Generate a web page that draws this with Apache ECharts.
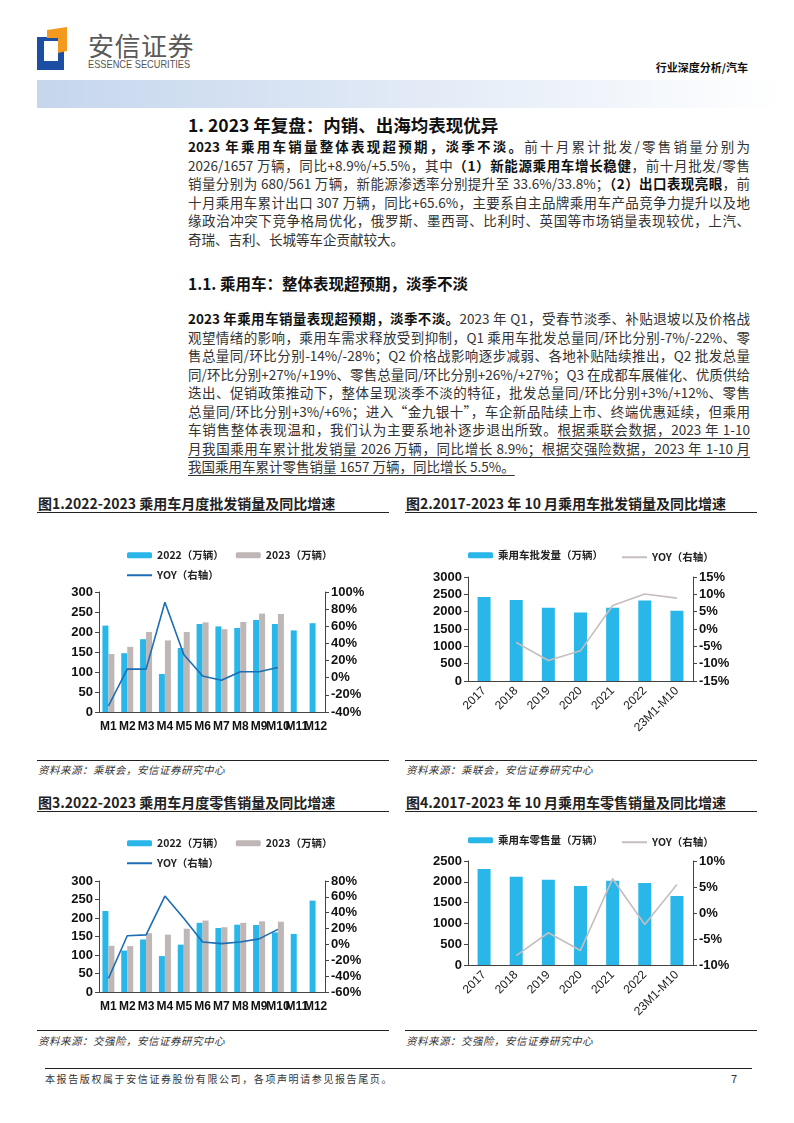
<!DOCTYPE html>
<html>
<head>
<meta charset="utf-8">
<script src="https://cdn.jsdelivr.net/npm/echarts@6/dist/echarts.min.js"></script>
<style>
  body { margin: 0; background: #fff; font-family: "Noto Sans CJK SC", sans-serif; }
  #page { position: relative; width: 794px; height: 1123px; overflow: hidden; }
  .abs { position: absolute; }
  .ln { position: absolute; left: 188px; width: 562px; font-size: 13.5px; line-height: 18px; color: #333;
        white-space: nowrap; text-align: justify; text-align-last: justify; }
  .ln.last { text-align-last: left; }
  .ln b { color: #111; }
  .u { text-decoration: underline; text-underline-offset: 3px; }
  .ctitle { position: absolute; font-size: 14px; font-weight: bold; color: #222; white-space: nowrap; }
  .rule { position: absolute; height: 0; border-top: 1.5px solid #222; }
  .src { position: absolute; font-size: 10.5px; font-style: italic; color: #333; letter-spacing: 0.5px; }
  .chart { position: absolute; }
</style>
</head>
<body>
<div id="page">
  <!-- 页眉 -->
  <svg class="abs" style="left:36px;top:26px" width="34" height="46">
    <rect x="1" y="11" width="27" height="33" fill="#1c4fa3"/>
    <rect x="8" y="15" width="14" height="20" fill="#fff"/>
    <polygon points="11,4 31,1 31,25 22,27 22,12 11,12" fill="#f39a1e"/>
  </svg>
  <div class="abs" style="left:88px;top:26px;font-size:26px;color:#5a5a5a;letter-spacing:0.5px">安信证券</div>
  <div class="abs" style="left:88px;top:58px;font-size:11px;color:#555;font-family:'Liberation Sans Narrow','Liberation Sans';transform:scaleX(0.84);transform-origin:left">ESSENCE SECURITIES</div>
  <div class="abs" style="right:46px;top:59px;font-size:11px;font-weight:bold;color:#111">行业深度分析/汽车</div>
  <div class="abs" style="left:37px;top:80px;width:745px;height:28px;background:linear-gradient(to right,#c5d6ed,#e4ecf7 55%,#ffffff)"></div>

  <!-- 正文 -->
  <div class="abs" style="left:188px;top:112px;font-size:17.5px;font-weight:bold;color:#111">1. 2023 年复盘：内销、出海均表现优异</div>
  <div class="ln" style="top:137px"><b>2023 年乘用车销量整体表现超预期，淡季不淡。</b>前十月累计批发/零售销量分别为</div>
  <div class="ln" style="top:155.5px">2026/1657 万辆，同比+8.9%/+5.5%，其中<b>（1）新能源乘用车增长稳健</b>，前十月批发/零售</div>
  <div class="ln" style="top:174px">销量分别为 680/561 万辆，新能源渗透率分别提升至 33.6%/33.8%；<b>（2）出口表现亮眼</b>，前</div>
  <div class="ln" style="top:192.5px">十月乘用车累计出口 307 万辆，同比+65.6%，主要系自主品牌乘用车产品竞争力提升以及地</div>
  <div class="ln" style="top:211px">缘政治冲突下竞争格局优化，俄罗斯、墨西哥、比利时、英国等市场销量表现较优，上汽、</div>
  <div class="ln last" style="top:229.5px">奇瑞、吉利、长城等车企贡献较大。</div>

  <div class="abs" style="left:188px;top:272px;font-size:15.5px;font-weight:bold;color:#111">1.1. 乘用车：整体表现超预期，淡季不淡</div>
  <div class="ln" style="top:309px"><b>2023 年乘用车销量表现超预期，淡季不淡。</b>2023 年 Q1，受春节淡季、补贴退坡以及价格战</div>
  <div class="ln" style="top:327.5px">观望情绪的影响，乘用车需求释放受到抑制，Q1 乘用车批发总量同/环比分别-7%/-22%、零</div>
  <div class="ln" style="top:346px">售总量同/环比分别-14%/-28%；Q2 价格战影响逐步减弱、各地补贴陆续推出，Q2 批发总量</div>
  <div class="ln" style="top:364.5px">同/环比分别+27%/+19%、零售总量同/环比分别+26%/+27%；Q3 在成都车展催化、优质供给</div>
  <div class="ln" style="top:383px">迭出、促销政策推动下，整体呈现淡季不淡的特征，批发总量同/环比分别+3%/+12%、零售</div>
  <div class="ln" style="top:401.5px">总量同/环比分别+3%/+6%；进入“金九银十”，车企新品陆续上市、终端优惠延续，但乘用</div>
  <div class="ln" style="top:420px">车销售整体表现温和，我们认为主要系地补逐步退出所致。<span class="u">根据乘联会数据，2023 年 1-10</span></div>
  <div class="ln" style="top:438.5px"><span class="u">月我国乘用车累计批发销量 2026 万辆，同比增长 8.9%；根据交强险数据，2023 年 1-10 月</span></div>
  <div class="ln last" style="top:457px"><span class="u">我国乘用车累计零售销量 1657 万辆，同比增长 5.5%。</span></div>

  <!-- 图表标题与来源 -->
  <div class="ctitle" style="left:38px;top:493px">图1.2022-2023 乘用车月度批发销量及同比增速</div>
  <div class="rule" style="left:37px;top:512px;width:352px"></div>
  <div class="ctitle" style="left:406px;top:493px">图2.2017-2023 年 10 月乘用车批发销量及同比增速</div>
  <div class="rule" style="left:405px;top:512px;width:352px"></div>
  <div class="rule" style="left:37px;top:760px;width:352px"></div>
  <div class="src" style="left:38px;top:762px">资料来源：乘联会，安信证券研究中心</div>
  <div class="rule" style="left:405px;top:760px;width:352px"></div>
  <div class="src" style="left:406px;top:762px">资料来源：乘联会，安信证券研究中心</div>

  <div class="ctitle" style="left:38px;top:792px">图3.2022-2023 乘用车月度零售销量及同比增速</div>
  <div class="rule" style="left:37px;top:811px;width:352px"></div>
  <div class="ctitle" style="left:406px;top:792px">图4.2017-2023 年 10 月乘用车零售销量及同比增速</div>
  <div class="rule" style="left:405px;top:811px;width:352px"></div>
  <div class="rule" style="left:37px;top:1030px;width:352px"></div>
  <div class="src" style="left:38px;top:1033px">资料来源：交强险，安信证券研究中心</div>
  <div class="rule" style="left:405px;top:1030px;width:352px"></div>
  <div class="src" style="left:406px;top:1033px">资料来源：交强险，安信证券研究中心</div>

  <div id="c1" class="chart" style="left:37px;top:520px;width:355px;height:240px"></div>
  <div id="c2" class="chart" style="left:400px;top:520px;width:360px;height:240px"></div>
  <div id="c3" class="chart" style="left:37px;top:818px;width:355px;height:212px"></div>
  <div id="c4" class="chart" style="left:400px;top:818px;width:360px;height:212px"></div>

  <!-- 页脚 -->
  <div class="rule" style="left:45px;top:1068px;width:707px;border-top-width:1px"></div>
  <div class="abs" style="left:45px;top:1071px;font-size:10px;color:#333;letter-spacing:1.6px">本报告版权属于安信证券股份有限公司，各项声明请参见报告尾页。</div>
  <div class="abs" style="left:731px;top:1070px;font-size:11px;color:#333">7</div>
</div>

<script>
// 月度数据（万辆、%）
var months = ['M1','M2','M3','M4','M5','M6','M7','M8','M9','M10','M11','M12']
var wholesale2022 = [216,147,182,95,160,220,214,210,230,220,204,222]
var wholesale2023 = [145,163,200,179,200,224,207,225,246,245]
var wholesaleYoy = [-33,10,10,88,27,2,-3,7,7,12]
var retail2022 = [219,112,142,97,128,187,173,182,181,161,157,247]
var retail2023 = [125,124,159,155,171,193,175,187,191,190]
var retailYoy = [-43,11,12,61,33,3,1,3,7,19]

// 年度数据（万辆、%）
var years = ['2017','2018','2019','2020','2021','2022','23M1-M10']
var annualWholesale = [2420,2340,2110,1975,2110,2320,2026]
var annualWholesaleYoy = [null,-3.9,-9.1,-6.3,6.8,10.1,8.9]
var annualRetail = [2310,2120,2050,1900,2025,1970,1657]
var annualRetailYoy = [null,-8.2,-3.8,-7.2,6.6,-2.2,5.5]

var BLUE = '#29b7e9'
var GREY = '#bfb6b6'
var LINE_BLUE = '#1b6db4'
var LINE_GREY = '#c6bebe'
var NUM_FONT = 'Liberation Sans'
var LINE_ICON = 'path://M0,0L25,0L25,2L0,2Z'

function axisY(min, max, interval, pct, pos) {
  return {
    type: 'value', position: pos, min: min, max: max, interval: interval,
    splitLine: { show: false },
    axisLine: { show: true, lineStyle: { color: '#444', width: 1 } },
    axisTick: { show: true, length: 4, lineStyle: { color: '#444' } },
    axisLabel: {
      color: '#111', fontSize: 13, fontWeight: 'bold', fontFamily: NUM_FONT, margin: 6,
      formatter: function (v) { return pct ? v + '%' : String(v) }
    }
  }
}

function legendText() {
  return { color: '#222', fontSize: 10.5, fontWeight: 'bold', fontFamily: 'Noto Sans CJK SC' }
}

function monthlyOption(d22, d23, yoy, rMin, rMax, layout) {
  return {
    animation: false,
    legend: [
      { data: ['2022（万辆）', '2023（万辆）'], left: 85, top: layout.lg1, itemWidth: 25, itemHeight: 6, itemGap: 12, textStyle: legendText() },
      { data: [{ name: 'YOY（右轴）', icon: LINE_ICON }], left: 85, top: layout.lg2, itemWidth: 25, itemHeight: 2, textStyle: legendText() }
    ],
    grid: { left: 62, right: 67, top: layout.top, bottom: layout.bottom },
    xAxis: {
      type: 'category', data: months,
      axisLine: { lineStyle: { color: '#444' } },
      axisTick: { length: 4, lineStyle: { color: '#444' } },
      axisLabel: { interval: 0, color: '#111', fontSize: 12, fontWeight: 'bold', fontFamily: NUM_FONT, margin: 9 }
    },
    yAxis: [axisY(0, 300, 50, false, 'left'), axisY(rMin, rMax, 20, true, 'right')],
    series: [
      { name: '2022（万辆）', type: 'bar', data: d22, barWidth: 6, barGap: '0%', itemStyle: { color: BLUE } },
      { name: '2023（万辆）', type: 'bar', data: d23, barWidth: 6, barGap: '0%', itemStyle: { color: GREY } },
      { name: 'YOY（右轴）', type: 'line', yAxisIndex: 1, data: yoy, symbol: 'none',
        lineStyle: { color: LINE_BLUE, width: 1.6 }, itemStyle: { color: LINE_BLUE } }
    ]
  }
}

function annualOption(vals, yoy, barName, lMax, lInt, rMin, rMax, layout) {
  return {
    animation: false,
    legend: [
      { data: [barName], left: 63, top: layout.lg, itemWidth: 25, itemHeight: 6, textStyle: legendText() },
      { data: [{ name: 'YOY（右轴）', icon: LINE_ICON }], left: 217, top: layout.lg + 2, itemWidth: 25, itemHeight: 2, textStyle: legendText() }
    ],
    grid: { left: 68, right: 67, top: layout.top, bottom: layout.bottom },
    xAxis: {
      type: 'category', data: years,
      axisLine: { lineStyle: { color: '#444' } },
      axisTick: { length: 4, lineStyle: { color: '#444' } },
      axisLabel: { interval: 0, rotate: 45, color: '#222', fontSize: 12, fontFamily: NUM_FONT, margin: 8 }
    },
    yAxis: [axisY(0, lMax, lInt, false, 'left'), axisY(rMin, rMax, 5, true, 'right')],
    series: [
      { name: barName, type: 'bar', data: vals, barWidth: 13, itemStyle: { color: BLUE } },
      { name: 'YOY（右轴）', type: 'line', yAxisIndex: 1, data: yoy, symbol: 'none',
        lineStyle: { color: LINE_GREY, width: 1.6 }, itemStyle: { color: LINE_GREY } }
    ]
  }
}

echarts.init(document.getElementById('c1')).setOption(
  monthlyOption(wholesale2022, wholesale2023, wholesaleYoy, -40, 100, { lg1: 25, lg2: 45, top: 72, bottom: 48 }))
echarts.init(document.getElementById('c2')).setOption(
  annualOption(annualWholesale, annualWholesaleYoy, '乘用车批发量（万辆）', 3000, 500, -15, 15, { lg: 25, top: 57, bottom: 79 }))
echarts.init(document.getElementById('c3')).setOption(
  monthlyOption(retail2022, retail2023, retailYoy, -60, 80, { lg1: 15, lg2: 35, top: 63, bottom: 38 }))
echarts.init(document.getElementById('c4')).setOption(
  annualOption(annualRetail, annualRetailYoy, '乘用车零售量（万辆）', 2500, 500, -10, 10, { lg: 12, top: 43, bottom: 65 }))
</script>
</body>
</html>
